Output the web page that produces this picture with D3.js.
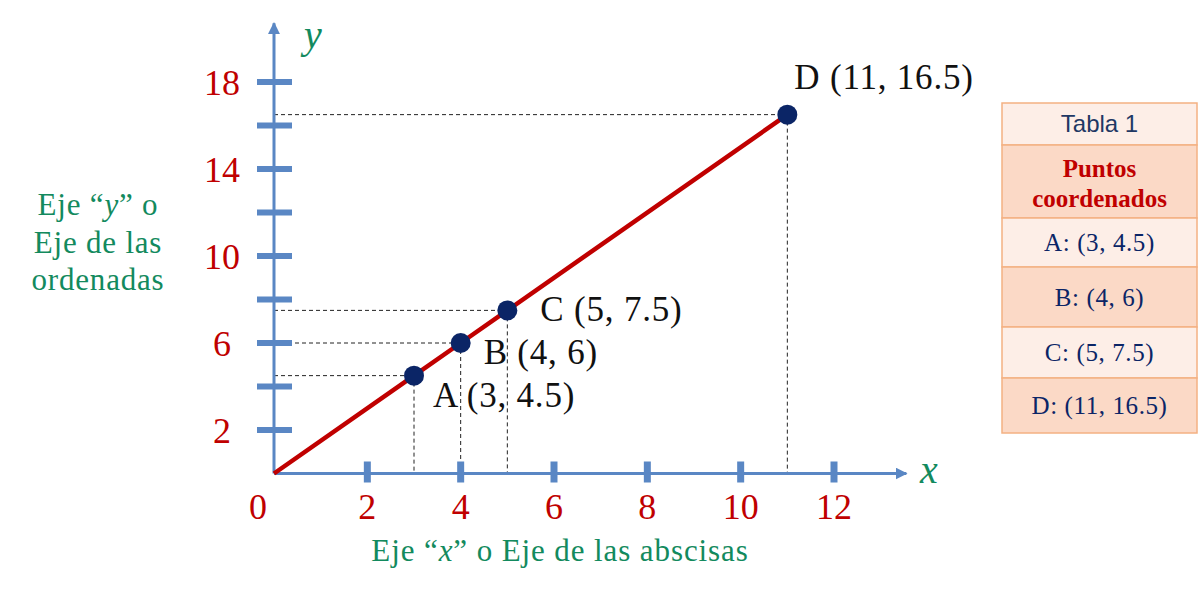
<!DOCTYPE html>
<html>
<head>
<meta charset="utf-8">
<script src="https://cdn.jsdelivr.net/npm/d3@7"></script>
<style>
  body { margin: 0; background: #fff; }
  svg { display: block; }
</style>
</head>
<body>
<div id="chart"></div>
<script>
// points on the line y = 1.5x
const pointNames = ["A", "B", "C", "D"];
const xValues = [3, 4, 5, 11];
const yValues = [4.5, 6, 7.5, 16.5];

const xTickValues = [2, 4, 6, 8, 10, 12];
const yTickValues = [2, 4, 6, 8, 10, 12, 14, 16, 18];
const yLabelValues = [2, 6, 10, 14, 18];

// [text, italic?] pieces for the axis titles
const yTitleLines = [
  [["Eje \u201C", false], ["y", true], ["\u201D o", false]],
  [["Eje de las", false]],
  [["ordenadas", false]]
];
const xTitle = [["Eje \u201C", false], ["x", true], ["\u201D o Eje de las abscisas", false]];
const tableTitle = "Tabla 1";
const tableHeader = ["Puntos", "coordenados"];

const WIDTH = 1198, HEIGHT = 589;
const SERIF = "'Liberation Serif', 'DejaVu Serif', serif";
const AXIS = "#5a87c4", RED = "#c00000", GREEN = "#138a5e", NAVY = "#0b2566";

const svg = d3.select("#chart").append("svg")
    .attr("width", WIDTH)
    .attr("height", HEIGHT);

const x = d3.scaleLinear().domain([0, 12]).range([274, 834]);
const y = d3.scaleLinear().domain([0, 18]).range([473.5, 82]);

const points = pointNames.map((n, i) => ({name: n, x: xValues[i], y: yValues[i]}));

// arrow heads
const defs = svg.append("defs");
defs.append("marker")
    .attr("id", "arrow")
    .attr("viewBox", "0 0 10 10")
    .attr("refX", 9).attr("refY", 5)
    .attr("markerWidth", 4).attr("markerHeight", 4)
    .attr("markerUnits", "strokeWidth")
    .attr("orient", "auto")
  .append("path")
    .attr("d", "M0,0L10,5L0,10z")
    .attr("fill", AXIS);

// dashed guides
const guides = svg.append("g")
    .attr("stroke", "#222")
    .attr("stroke-width", 1)
    .attr("stroke-dasharray", "4,3");
guides.selectAll(".h").data(points).enter().append("line")
    .attr("x1", x(0)).attr("x2", d => x(d.x))
    .attr("y1", d => y(d.y)).attr("y2", d => y(d.y));
guides.selectAll(".v").data(points).enter().append("line")
    .attr("x1", d => x(d.x)).attr("x2", d => x(d.x))
    .attr("y1", d => y(d.y)).attr("y2", y(0));

// axes
svg.append("line")
    .attr("x1", x(0)).attr("y1", y(0))
    .attr("x2", x(13.55)).attr("y2", y(0))
    .attr("stroke", AXIS).attr("stroke-width", 3)
    .attr("marker-end", "url(#arrow)");
svg.append("line")
    .attr("x1", x(0)).attr("y1", y(0))
    .attr("x2", x(0)).attr("y2", y(20.7))
    .attr("stroke", AXIS).attr("stroke-width", 3)
    .attr("marker-end", "url(#arrow)");

// tick bars
svg.append("g").selectAll("rect").data(yTickValues).enter().append("rect")
    .attr("x", x(0) - 17).attr("y", d => y(d) - 3)
    .attr("width", 35).attr("height", 6)
    .attr("fill", AXIS);
svg.append("g").selectAll("rect").data(xTickValues).enter().append("rect")
    .attr("x", d => x(d) - 3.5).attr("y", y(0) - 12)
    .attr("width", 7).attr("height", 21)
    .attr("fill", AXIS);

// tick labels
svg.append("g").selectAll("text").data(yLabelValues).enter().append("text")
    .attr("x", 222).attr("y", d => y(d))
    .attr("dy", "0.35em")
    .attr("text-anchor", "middle")
    .attr("font-family", SERIF).attr("font-size", 36)
    .attr("fill", RED)
    .text(d => d);
svg.append("g").selectAll("text").data([0].concat(xTickValues)).enter().append("text")
    .attr("x", d => d === 0 ? x(0) - 16 : x(d))
    .attr("y", 519)
    .attr("text-anchor", "middle")
    .attr("font-family", SERIF).attr("font-size", 36)
    .attr("fill", RED)
    .text(d => d);

// axis letters
svg.append("text")
    .attr("x", 313).attr("y", 48)
    .attr("text-anchor", "middle")
    .attr("font-family", SERIF).attr("font-style", "italic")
    .attr("font-size", 40).attr("fill", GREEN)
    .text("y");
svg.append("text")
    .attr("x", 929).attr("y", 483)
    .attr("text-anchor", "middle")
    .attr("font-family", SERIF).attr("font-style", "italic")
    .attr("font-size", 40).attr("fill", GREEN)
    .text("x");

// axis titles
function addPieces(sel, pieces) {
  pieces.forEach(p => {
    sel.append("tspan")
        .attr("font-style", p[1] ? "italic" : null)
        .text(p[0]);
  });
}
yTitleLines.forEach((pieces, i) => {
  const t = svg.append("text")
      .attr("x", 98).attr("y", 215 + i * 37.5)
      .attr("text-anchor", "middle")
      .attr("font-family", SERIF).attr("font-size", 31)
      .attr("letter-spacing", 0.8)
      .attr("fill", GREEN);
  addPieces(t, pieces);
});
const xt = svg.append("text")
    .attr("x", 560).attr("y", 561)
    .attr("text-anchor", "middle")
    .attr("font-family", SERIF).attr("font-size", 31)
    .attr("letter-spacing", 0.9)
    .attr("fill", GREEN);
addPieces(xt, xTitle);

// the line through the origin
const line = d3.line().x(d => x(d.x)).y(d => y(d.y));
svg.append("path")
    .datum([{x: 0, y: 0}].concat(points))
    .attr("d", line)
    .attr("fill", "none")
    .attr("stroke", RED)
    .attr("stroke-width", 4.5);

svg.append("g").selectAll("circle").data(points).enter().append("circle")
    .attr("cx", d => x(d.x)).attr("cy", d => y(d.y))
    .attr("r", 10)
    .attr("fill", NAVY);

// point labels, nudged off the line
const labelOffset = {A: [19, 19], B: [23, 9], C: [33, -2], D: [7, -38]};
svg.append("g").selectAll("text").data(points).enter().append("text")
    .attr("x", d => x(d.x) + labelOffset[d.name][0])
    .attr("y", d => y(d.y) + labelOffset[d.name][1])
    .attr("dy", "0.35em")
    .attr("font-family", SERIF).attr("font-size", 35)
    .attr("letter-spacing", 0.8)
    .attr("fill", "#111")
    .text(d => `${d.name} (${d.x}, ${d.y})`);

// Tabla 1
const tableX = 1002, tableW = 195;
const rowEdges = [103, 145, 218, 267, 327, 378, 433];
const rowFill = ["#fdeee7", "#fbd9c6", "#fdeee7", "#fbd9c6", "#fdeee7", "#fbd9c6"];
const table = svg.append("g");
table.selectAll("rect").data(rowFill).enter().append("rect")
    .attr("x", tableX).attr("y", (d, i) => rowEdges[i])
    .attr("width", tableW).attr("height", (d, i) => rowEdges[i + 1] - rowEdges[i])
    .attr("fill", d => d)
    .attr("stroke", "#f4b183").attr("stroke-width", 1.5);

table.append("text")
    .attr("x", tableX + tableW / 2).attr("y", (rowEdges[0] + rowEdges[1]) / 2)
    .attr("dy", "0.35em").attr("text-anchor", "middle")
    .attr("font-family", "'Liberation Sans', Arial, sans-serif").attr("font-size", 24)
    .attr("fill", "#1f3864")
    .text(tableTitle);
table.selectAll(".hdr").data(tableHeader).enter().append("text")
    .attr("x", tableX + tableW / 2).attr("y", (d, i) => 177 + i * 30)
    .attr("text-anchor", "middle")
    .attr("font-family", SERIF).attr("font-weight", "bold").attr("font-size", 25)
    .attr("fill", RED)
    .text(d => d);
table.selectAll(".row").data(points).enter().append("text")
    .attr("x", tableX + tableW / 2)
    .attr("y", (d, i) => (rowEdges[i + 2] + rowEdges[i + 3]) / 2)
    .attr("dy", "0.35em").attr("text-anchor", "middle")
    .attr("font-family", SERIF).attr("font-size", 25)
    .attr("letter-spacing", 0.6)
    .attr("fill", NAVY)
    .text(d => `${d.name}:  (${d.x}, ${d.y})`);
</script>
</body>
</html>
